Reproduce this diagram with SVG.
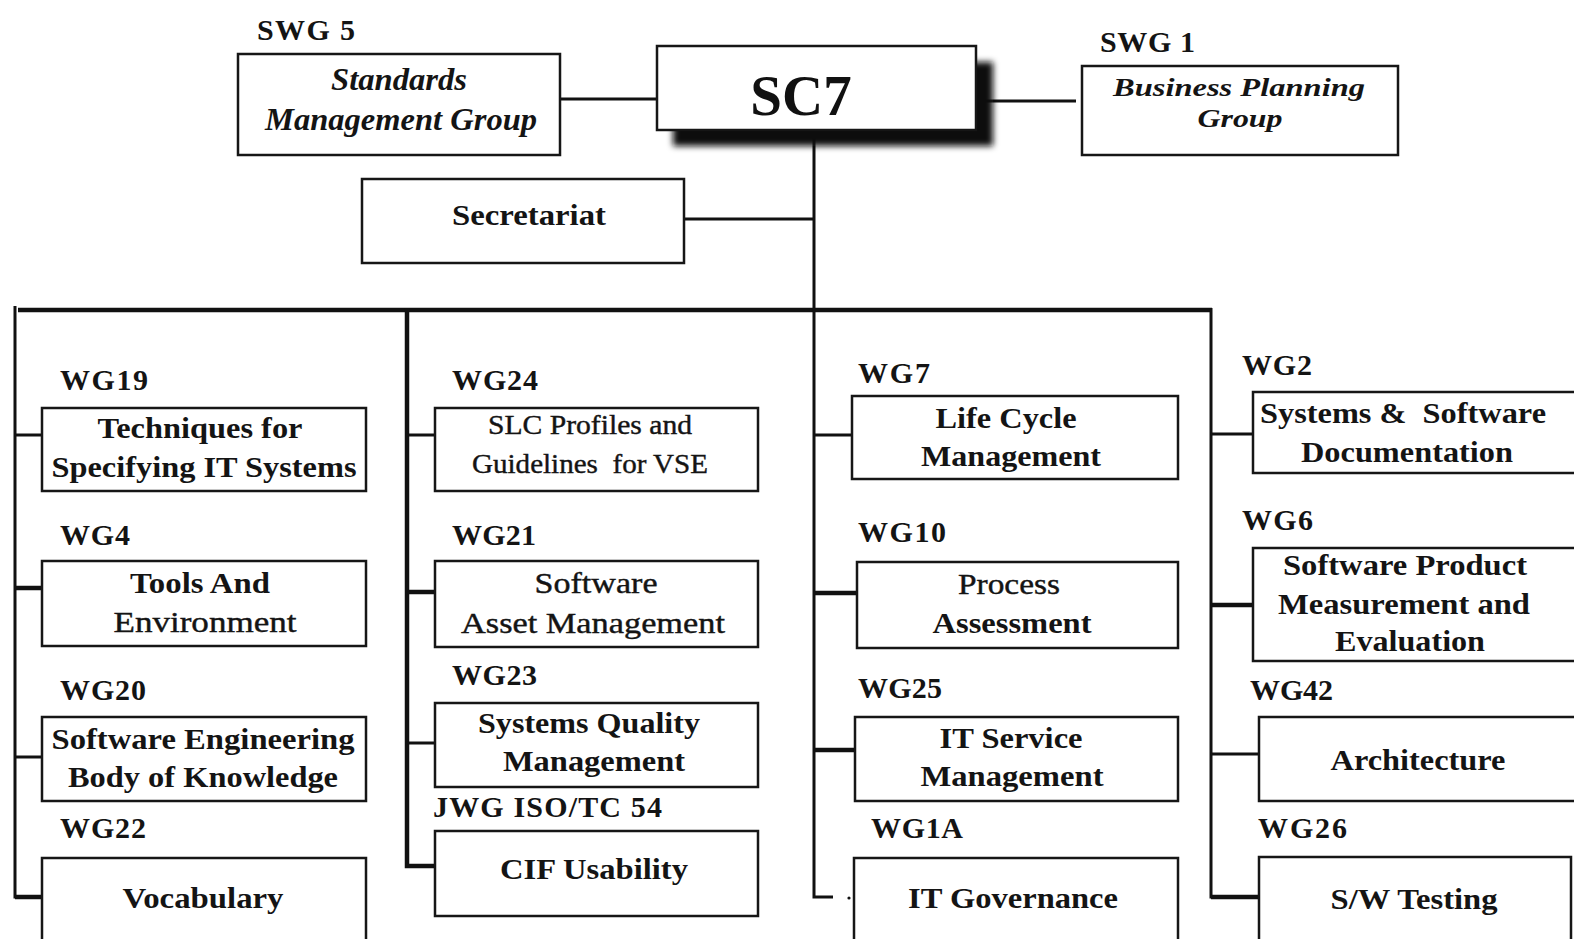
<svg xmlns="http://www.w3.org/2000/svg" width="1574" height="939" viewBox="0 0 1574 939">
  <defs>
    <filter id="soft-shadow" x="-10%" y="-20%" width="120%" height="140%">
      <feGaussianBlur stdDeviation="3"/>
    </filter>
    <style>
      .box { fill: #fff; stroke: #161616; stroke-width: 2.5; }
      .lbl { font-family: "Liberation Serif", "Times New Roman", serif; font-weight: bold; font-size: 30px; fill: #141414; }
      .t { font-family: "Liberation Serif", "Times New Roman", serif; font-weight: bold; font-size: 29px; fill: #141414; text-anchor: middle; }
      .tr { font-family: "Liberation Serif", "Times New Roman", serif; font-weight: normal; font-size: 29px; fill: #141414; text-anchor: middle; stroke: #141414; stroke-width: 0.4; }
      .tr.small { font-size: 27px; }
      .ti { font-family: "Liberation Serif", "Times New Roman", serif; font-weight: bold; font-style: italic; font-size: 31px; fill: #141414; text-anchor: middle; }
      .ti.small { font-size: 25px; }
      .wire { stroke: #111; stroke-width: 3; fill: none; }
      .wire-heavy { stroke: #111; stroke-width: 4.5; fill: none; }
    </style>
  </defs>
  <rect width="1574" height="939" fill="#fff"/>

  <!-- connectors -->
  <g id="connectors">
    <!-- top level links -->
    <line class="wire" x1="560" y1="99" x2="658" y2="99"/>
    <line class="wire" x1="985" y1="101" x2="1076" y2="101"/>
    <line class="wire" x1="684" y1="219" x2="814" y2="219"/>
    <!-- main bus -->
    <line class="wire-heavy" x1="18" y1="310" x2="1212" y2="310"/>
    <!-- column 1 -->
    <polyline class="wire" points="15,306 15,897 42,897"/>
    <line class="wire" x1="15" y1="435" x2="42" y2="435"/>
    <line class="wire-heavy" x1="15" y1="588" x2="42" y2="588"/>
    <line class="wire" x1="15" y1="757" x2="42" y2="757"/>
    <line class="wire-heavy" x1="15" y1="897" x2="42" y2="897"/>
    <!-- column 2 -->
    <polyline class="wire-heavy" points="407,308 407,866 435,866"/>
    <line class="wire" x1="407" y1="435" x2="435" y2="435"/>
    <line class="wire-heavy" x1="407" y1="592" x2="435" y2="592"/>
    <line class="wire" x1="407" y1="743" x2="435" y2="743"/>
    <circle cx="449" cy="868" r="1.6" fill="#111"/>
    <!-- column 3 (trunk from SC7) -->
    <polyline class="wire" points="814,130 814,897 833,897"/>
    <line class="wire" x1="814" y1="435" x2="852" y2="435"/>
    <line class="wire-heavy" x1="814" y1="593" x2="857" y2="593"/>
    <line class="wire-heavy" x1="814" y1="750" x2="855" y2="750"/>
    <circle cx="849" cy="898" r="1.6" fill="#111"/>
    <!-- column 4 -->
    <polyline class="wire" points="1211,308 1211,897 1259,897"/>
    <line class="wire" x1="1211" y1="434" x2="1253" y2="434"/>
    <line class="wire-heavy" x1="1211" y1="605" x2="1253" y2="605"/>
    <line class="wire" x1="1211" y1="754" x2="1259" y2="754"/>
    <line class="wire-heavy" x1="1211" y1="897" x2="1259" y2="897"/>
  </g>

  <!-- top level -->
  <g id="sc7">
    <rect x="673" y="62" width="320" height="84" fill="#0c0c0c" filter="url(#soft-shadow)"/>
    <rect class="box" x="657" y="46" width="319" height="84"/>
    <text x="801" y="115" font-family="Liberation Serif, Times New Roman, serif" font-weight="bold" font-size="57" fill="#111" text-anchor="middle">SC7</text>
  </g>

  <g id="swg5">
    <text class="lbl" x="257" y="40" textLength="98">SWG 5</text>
    <rect class="box" x="238" y="54" width="322" height="101"/>
    <text class="ti" x="399" y="90" textLength="136" lengthAdjust="spacingAndGlyphs">Standards</text>
    <text class="ti" x="401" y="130" textLength="272" lengthAdjust="spacingAndGlyphs">Management Group</text>
  </g>

  <g id="swg1">
    <text class="lbl" x="1100" y="52" textLength="95">SWG 1</text>
    <rect class="box" x="1082" y="66" width="316" height="89"/>
    <text class="ti small" x="1239" y="96" textLength="252" lengthAdjust="spacingAndGlyphs">Business Planning</text>
    <text class="ti small" x="1240" y="127" textLength="85" lengthAdjust="spacingAndGlyphs">Group</text>
  </g>

  <g id="secretariat">
    <rect class="box" x="362" y="179" width="322" height="84"/>
    <text class="t" x="529" y="225" textLength="154" lengthAdjust="spacingAndGlyphs">Secretariat</text>
  </g>

  <!-- column 1 -->
  <g id="wg19">
    <text class="lbl" x="60" y="390" textLength="88">WG19</text>
    <rect class="box" x="42" y="408" width="324" height="83"/>
    <text class="t" x="200" y="438" textLength="205" lengthAdjust="spacingAndGlyphs">Techniques for</text>
    <text class="t" x="204" y="477" textLength="305" lengthAdjust="spacingAndGlyphs">Specifying IT Systems</text>
  </g>
  <g id="wg4">
    <text class="lbl" x="60" y="545" textLength="70">WG4</text>
    <rect class="box" x="42" y="561" width="324" height="85"/>
    <text class="t" x="200" y="593" textLength="140" lengthAdjust="spacingAndGlyphs">Tools And</text>
    <text class="tr" x="205" y="632" textLength="183" lengthAdjust="spacingAndGlyphs">Environment</text>
  </g>
  <g id="wg20">
    <text class="lbl" x="60" y="700" textLength="86">WG20</text>
    <rect class="box" x="42" y="717" width="324" height="84"/>
    <text class="t" x="203" y="749" textLength="303" lengthAdjust="spacingAndGlyphs">Software Engineering</text>
    <text class="t" x="203" y="787" textLength="270" lengthAdjust="spacingAndGlyphs">Body of Knowledge</text>
  </g>
  <g id="wg22">
    <text class="lbl" x="60" y="838" textLength="86">WG22</text>
    <rect class="box" x="42" y="858" width="324" height="100"/>
    <text class="t" x="203" y="908" textLength="161" lengthAdjust="spacingAndGlyphs">Vocabulary</text>
  </g>

  <!-- column 2 -->
  <g id="wg24">
    <text class="lbl" x="452" y="390" textLength="86">WG24</text>
    <rect class="box" x="435" y="408" width="323" height="83"/>
    <text class="tr small" x="590" y="434" textLength="204" lengthAdjust="spacingAndGlyphs">SLC Profiles and</text>
    <text class="tr small" x="590" y="473" textLength="236" lengthAdjust="spacingAndGlyphs" xml:space="preserve">Guidelines  for VSE</text>
  </g>
  <g id="wg21">
    <text class="lbl" x="452" y="545" textLength="84">WG21</text>
    <rect class="box" x="435" y="561" width="323" height="86"/>
    <text class="tr" x="596" y="593" textLength="123" lengthAdjust="spacingAndGlyphs">Software</text>
    <text class="tr" x="593" y="633" textLength="264" lengthAdjust="spacingAndGlyphs">Asset Management</text>
  </g>
  <g id="wg23">
    <text class="lbl" x="452" y="685" textLength="85">WG23</text>
    <rect class="box" x="435" y="703" width="323" height="84"/>
    <text class="t" x="589" y="733" textLength="222" lengthAdjust="spacingAndGlyphs">Systems Quality</text>
    <text class="t" x="594" y="771" textLength="182" lengthAdjust="spacingAndGlyphs">Management</text>
  </g>
  <g id="jwg-tc54">
    <text class="lbl" x="433" y="817" textLength="229">JWG ISO/TC 54</text>
    <rect class="box" x="435" y="831" width="323" height="85"/>
    <text class="t" x="594" y="879" textLength="188" lengthAdjust="spacingAndGlyphs">CIF Usability</text>
  </g>

  <!-- column 3 -->
  <g id="wg7">
    <text class="lbl" x="858" y="383" textLength="72">WG7</text>
    <rect class="box" x="852" y="396" width="326" height="83"/>
    <text class="t" x="1006" y="428" textLength="141" lengthAdjust="spacingAndGlyphs">Life Cycle</text>
    <text class="t" x="1011" y="466" textLength="180" lengthAdjust="spacingAndGlyphs">Management</text>
  </g>
  <g id="wg10">
    <text class="lbl" x="858" y="542" textLength="88">WG10</text>
    <rect class="box" x="857" y="562" width="321" height="86"/>
    <text class="tr" x="1009" y="594" textLength="102" lengthAdjust="spacingAndGlyphs">Process</text>
    <text class="t" x="1012" y="633" textLength="159" lengthAdjust="spacingAndGlyphs">Assessment</text>
  </g>
  <g id="wg25">
    <text class="lbl" x="858" y="698" textLength="84">WG25</text>
    <rect class="box" x="855" y="717" width="323" height="84"/>
    <text class="t" x="1011" y="748" textLength="143" lengthAdjust="spacingAndGlyphs">IT Service</text>
    <text class="t" x="1012" y="786" textLength="183" lengthAdjust="spacingAndGlyphs">Management</text>
  </g>
  <g id="wg1a">
    <text class="lbl" x="871" y="838" textLength="92">WG1A</text>
    <rect class="box" x="854" y="858" width="324" height="100"/>
    <text class="t" x="1013" y="908" textLength="210" lengthAdjust="spacingAndGlyphs">IT Governance</text>
  </g>

  <!-- column 4 -->
  <g id="wg2">
    <text class="lbl" x="1242" y="375" textLength="70">WG2</text>
    <rect class="box" x="1253" y="392" width="340" height="81"/>
    <text class="t" x="1403" y="423" textLength="286" lengthAdjust="spacingAndGlyphs" xml:space="preserve">Systems &amp;  Software</text>
    <text class="t" x="1407" y="462" textLength="212" lengthAdjust="spacingAndGlyphs">Documentation</text>
  </g>
  <g id="wg6">
    <text class="lbl" x="1242" y="530" textLength="71">WG6</text>
    <rect class="box" x="1253" y="548" width="340" height="113"/>
    <text class="t" x="1405" y="575" textLength="244" lengthAdjust="spacingAndGlyphs">Software Product</text>
    <text class="t" x="1404" y="614" textLength="252" lengthAdjust="spacingAndGlyphs">Measurement and</text>
    <text class="t" x="1410" y="651" textLength="150" lengthAdjust="spacingAndGlyphs">Evaluation</text>
  </g>
  <g id="wg42">
    <text class="lbl" x="1250" y="700" textLength="83">WG42</text>
    <rect class="box" x="1259" y="717" width="340" height="84"/>
    <text class="t" x="1418" y="770" textLength="175" lengthAdjust="spacingAndGlyphs">Architecture</text>
  </g>
  <g id="wg26">
    <text class="lbl" x="1258" y="838" textLength="89">WG26</text>
    <rect class="box" x="1259" y="857" width="312" height="100"/>
    <text class="t" x="1414" y="909" textLength="167" lengthAdjust="spacingAndGlyphs">S/W Testing</text>
  </g>
</svg>
